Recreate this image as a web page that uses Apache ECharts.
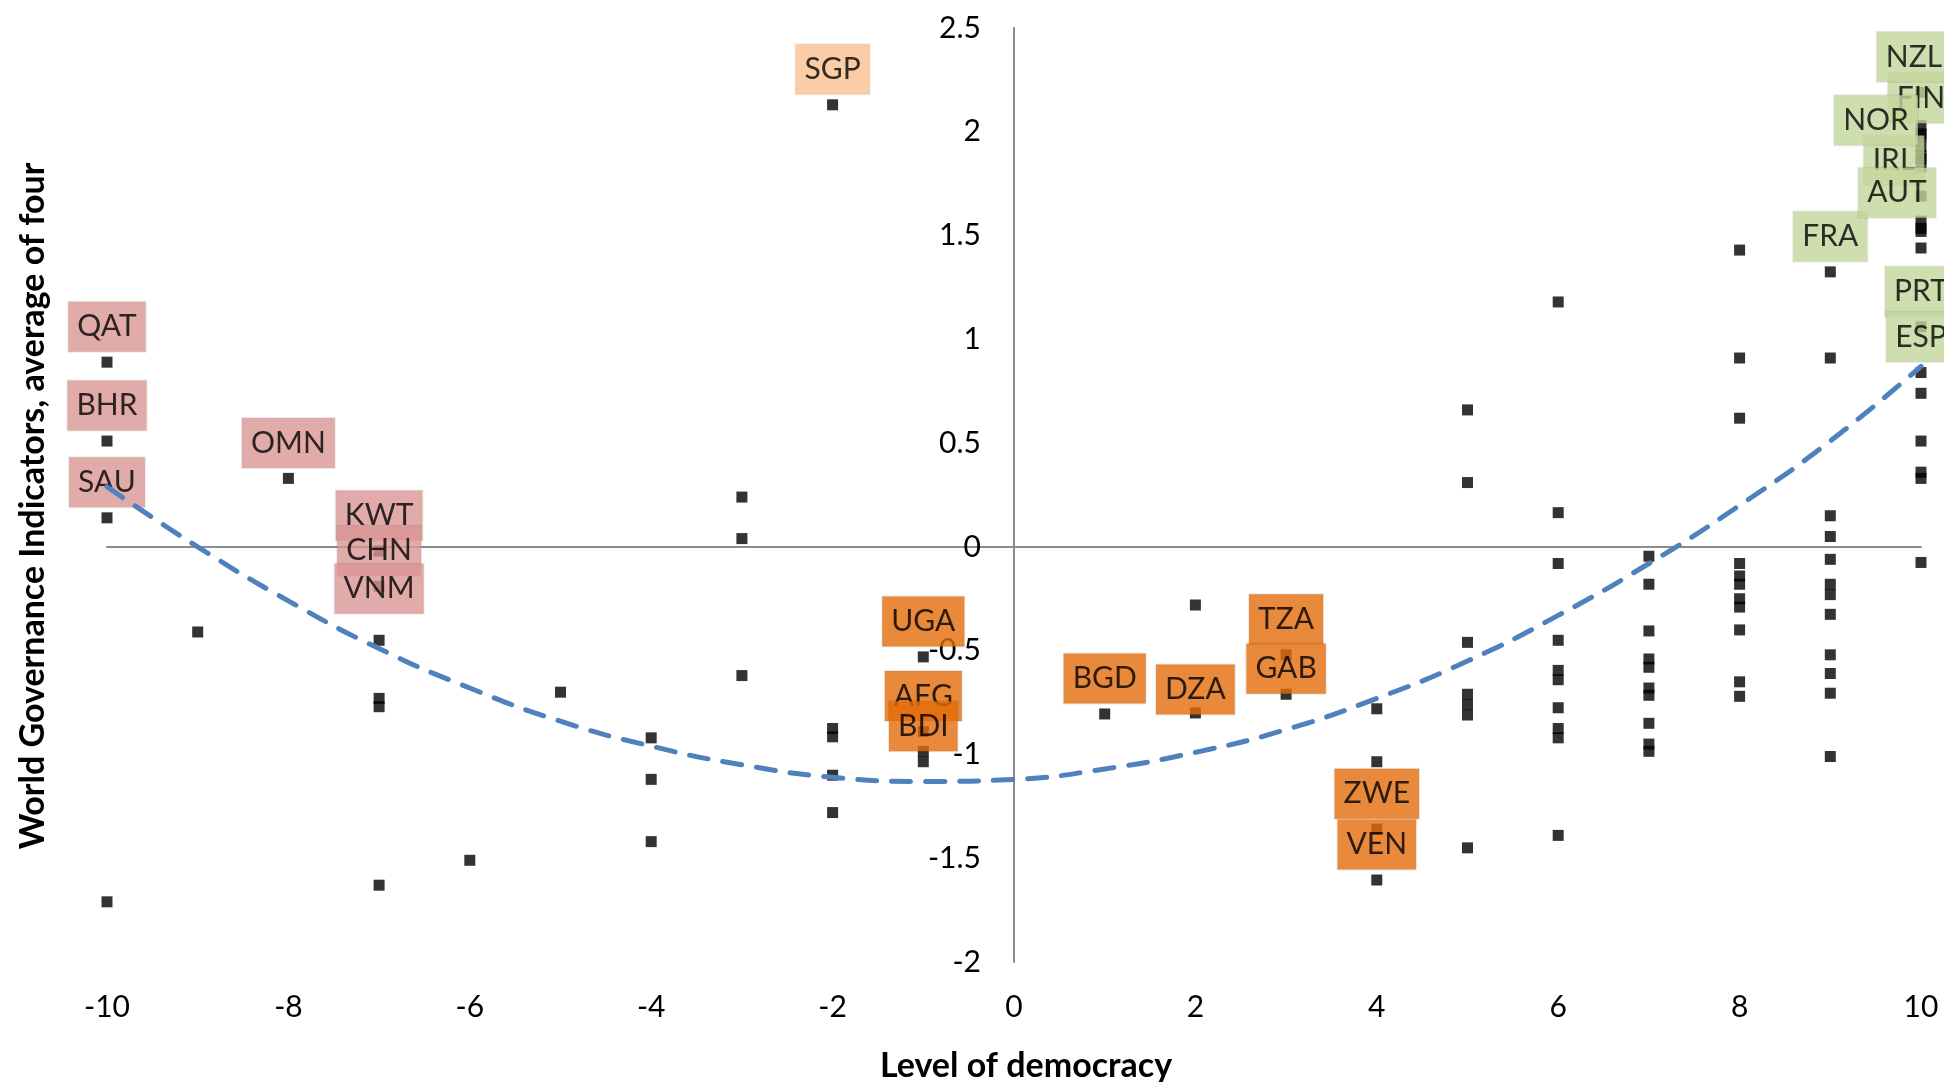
<!DOCTYPE html>
<html>
<head>
<meta charset="utf-8">
<script src="https://cdn.jsdelivr.net/npm/echarts@6/dist/echarts.min.js"></script>
<style>
  html, body { margin: 0; padding: 0; background: #ffffff; }
  #chart { width: 1944px; height: 1082px; }
</style>
</head>
<body>
<div id="chart"></div>
<script>
// ---------- DATA ----------
// Unlabelled countries: level of democracy (x) and WGI average (y)
const otherX = [
  -10, -9, -7, -7, -7, -6, -5, -4, -4, -4,
  -3, -3, -3, -2, -2, -2, -2, -1, 2, 4, 4,
  5, 5, 5, 5, 5, 5, 5,
  6, 6, 6, 6, 6, 6, 6, 6, 6, 6,
  7, 7, 7, 7, 7, 7, 7, 7, 7, 7,
  8, 8, 8, 8, 8, 8, 8, 8, 8, 8, 8,
  9, 9, 9, 9, 9, 9, 9, 9, 9, 9, 9,
  10, 10, 10, 10, 10, 10, 10, 10, 10, 10, 10, 10, 10
];
const otherY = [
  -1.71, -0.41, -0.73, -0.77, -1.63, -1.51, -0.70, -0.92, -1.12, -1.42,
  0.24, 0.04, -0.62, -0.875, -0.915, -1.10, -1.28, -0.985, -0.28, -0.78, -1.035,
  0.66, 0.31, -0.46, -0.71, -0.76, -0.81, -1.45,
  1.18, 0.165, -0.08, -0.45, -0.595, -0.64, -0.775, -0.875, -0.92, -1.39,
  -0.045, -0.18, -0.405, -0.54, -0.58, -0.68, -0.715, -0.85, -0.95, -0.985,
  1.43, 0.91, 0.62, -0.08, -0.14, -0.18, -0.25, -0.29, -0.40, -0.65, -0.72,
  0.91, 0.15, 0.05, -0.06, -0.18, -0.23, -0.325, -0.52, -0.61, -0.705, -1.01,
  2.03, 1.98, 1.93, 1.87, 1.83, 1.57, 1.52, 1.44, 0.74, 0.51, 0.36, 0.33, -0.075
];

// Labelled countries, grouped by label colour
const gulfCodes = ['QAT', 'BHR', 'SAU', 'OMN', 'KWT', 'CHN', 'VNM'];
const gulfX     = [-10, -10, -10, -8, -7, -7, -7];
const gulfY     = [0.89, 0.51, 0.14, 0.33, -0.02, -0.19, -0.45];

const sgpCodes = ['SGP'];
const sgpX     = [-2];
const sgpY     = [2.13];

const poorCodes = ['UGA', 'AFG', 'BDI', 'BGD', 'DZA', 'TZA', 'GAB', 'ZWE', 'VEN'];
const poorX     = [-1, -1, -1, 1, 2, 3, 3, 4, 4];
const poorY     = [-0.53, -0.89, -1.035, -0.805, -0.80, -0.52, -0.71, -1.36, -1.605];

const richCodes = ['FRA', 'FIN', 'IRL', 'NZL', 'NOR', 'AUT', 'PRT', 'ESP'];
const richX     = [9, 10, 10, 10, 10, 10, 10, 10];
const richY     = [1.325, 1.99, 1.69, 2.19, 1.885, 1.535, 1.06, 0.84];

// Polynomial trend line (order 2)
const trendX = [-10, -9, -8, -7, -6, -5, -4, -3, -2, -1, 0, 1, 2, 3, 4, 5, 6, 7, 8, 9, 10];
const trendY = [0.29, 0.00, -0.26, -0.49, -0.68, -0.84, -0.96, -1.05, -1.11, -1.13, -1.12,
                -1.07, -0.99, -0.88, -0.73, -0.55, -0.33, -0.08, 0.20, 0.51, 0.87];

// Axis ticks
const xMin = -10, xMax = 10, xStep = 2;
const yMin = -2, yMax = 2.5, yStep = 0.5;

// ---------- STYLE (manual label nudges, pixels) ----------
const labelNudge = {
  VNM: [0, -16], DZA: [0, 12], GAB: [0, 10],
  NZL: [-7, 0], NOR: [-45, 0], IRL: [-27, 0], AUT: [-24, 0]
};
const FONT = 'Lato';

// ---------- BUILD ----------
const zip = (xs, ys) => xs.map((x, i) => [x, ys[i]]);

const allPoints = zip(otherX, otherY)
  .concat(zip(gulfX, gulfY), zip(sgpX, sgpY), zip(poorX, poorY), zip(richX, richY));

function labelSeries(codes, xs, ys, bg) {
  return {
    type: 'scatter',
    z: 4,
    silent: true,
    symbol: 'rect',
    symbolSize: 11,
    itemStyle: { color: 'rgba(0,0,0,0)' },
    data: codes.map((c, i) => {
      const d = { name: c, value: [xs[i], ys[i]] };
      if (labelNudge[c]) d.label = { offset: labelNudge[c] };
      return d;
    }),
    label: {
      show: true,
      position: 'top',
      distance: 5,
      formatter: p => p.name,
      backgroundColor: bg,
      borderColor: 'rgba(0,0,0,0.10)',
      borderWidth: 1,
      padding: [8, 9, 8, 9],
      fontFamily: FONT,
      fontSize: 30,
      lineHeight: 34,
      color: '#000'
    }
  };
}

const chart = echarts.init(document.getElementById('chart'), null, { renderer: 'canvas' });

chart.setOption({
  animation: false,
  backgroundColor: '#ffffff',
  grid: { left: 107, right: 23, top: 28, bottom: 120, containLabel: false, outerBoundsMode: 'none' },
  xAxis: [
    {
      type: 'value', min: xMin, max: xMax, interval: xStep,
      position: 'bottom',
      axisLine: { show: false, onZero: false },
      axisTick: { show: false },
      splitLine: { show: false },
      axisLabel: { margin: 30, fontFamily: FONT, fontSize: 30, color: '#000' },
      name: 'Level of democracy',
      nameLocation: 'middle',
      nameGap: 87,
      nameTextStyle: { fontFamily: FONT, fontSize: 34, fontWeight: 'bold', color: '#000', padding: [0, 0, 0, 24] }
    },
    {
      type: 'value', min: xMin, max: xMax, interval: xStep,
      axisLine: { show: true, onZero: true, lineStyle: { color: '#8c8c8c', width: 2 } },
      axisTick: { show: false },
      axisLabel: { show: false },
      splitLine: { show: false }
    }
  ],
  yAxis: {
    type: 'value', min: yMin, max: yMax, interval: yStep,
    axisLine: { show: true, onZero: true, onZeroAxisIndex: 0, lineStyle: { color: '#8c8c8c', width: 2 } },
    axisTick: { show: false },
    splitLine: { show: false },
    axisLabel: { margin: -874, fontFamily: FONT, fontSize: 30, color: '#000' },
    name: 'World Governance Indicators, average of four',
    nameLocation: 'middle',
    nameGap: 57,
    nameTextStyle: { fontFamily: FONT, fontSize: 34, fontWeight: 'bold', color: '#000', padding: [0, 22, 0, 0] }
  },
  series: [
    {
      type: 'scatter',
      z: 2,
      silent: true,
      symbol: 'rect',
      symbolSize: 11,
      itemStyle: { color: '#000' },
      data: allPoints
    },
    labelSeries(gulfCodes, gulfX, gulfY, '#D99694'),
    labelSeries(sgpCodes, sgpX, sgpY, '#FAC090'),
    labelSeries(poorCodes, poorX, poorY, '#E46C0A'),
    labelSeries(richCodes, richX, richY, '#C3D69B'),
    {
      type: 'line',
      z: 10,
      silent: true,
      smooth: true,
      symbol: 'none',
      data: zip(trendX, trendY),
      lineStyle: { color: '#4F81BD', width: 5, type: [19, 15], cap: 'round' }
    }
  ]
});
</script>
</body>
</html>
